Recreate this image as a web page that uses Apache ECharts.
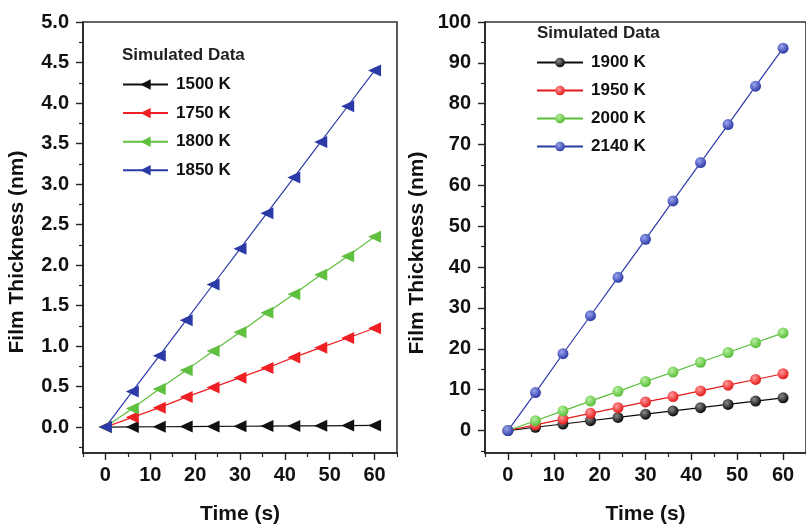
<!DOCTYPE html>
<html>
<head>
<meta charset="utf-8">
<script src="https://cdn.jsdelivr.net/npm/echarts@6/dist/echarts.min.js"></script>
<style>
html,body{margin:0;padding:0;background:#fff;}
#c{width:806px;height:530px;}
</style>
</head>
<body>
<div id="c"></div>
<script>
// ---- data ----
var timeS = [0, 6, 12, 18, 24, 30, 36, 42, 48, 54, 60];

var k1500 = [0, 0.002, 0.004, 0.006, 0.008, 0.010, 0.012, 0.014, 0.016, 0.018, 0.020];
var k1750 = [0, 0.12, 0.24, 0.37, 0.49, 0.61, 0.73, 0.86, 0.98, 1.10, 1.22];
var k1800 = [0, 0.23, 0.47, 0.70, 0.94, 1.17, 1.41, 1.64, 1.88, 2.11, 2.35];
var k1850 = [0, 0.44, 0.88, 1.32, 1.76, 2.20, 2.64, 3.08, 3.52, 3.96, 4.40];

var k1900 = [0, 0.8, 1.6, 2.4, 3.2, 4.0, 4.8, 5.6, 6.4, 7.2, 8.0];
var k1950 = [0, 1.4, 2.8, 4.2, 5.6, 7.0, 8.3, 9.7, 11.1, 12.5, 13.9];
var k2000 = [0, 2.4, 4.8, 7.2, 9.6, 12.0, 14.3, 16.7, 19.1, 21.5, 23.9];
var k2140 = [0, 9.3, 18.8, 28.1, 37.5, 46.8, 56.2, 65.6, 74.9, 84.3, 93.6];

var leftNames = ['1500 K', '1750 K', '1800 K', '1850 K'];
var rightNames = ['1900 K', '1950 K', '2000 K', '2140 K'];

var xMajorTicks = [0, 10, 20, 30, 40, 50, 60];
var xMinorTicks = [-5, 5, 15, 25, 35, 45, 55, 65];
var yLeftMajorTicks = [0, 0.5, 1.0, 1.5, 2.0, 2.5, 3.0, 3.5, 4.0, 4.5, 5.0];
var yLeftMinorTicks = [-0.25, 0.25, 0.75, 1.25, 1.75, 2.25, 2.75, 3.25, 3.75, 4.25, 4.75];
var yRightMajorTicks = [0, 10, 20, 30, 40, 50, 60, 70, 80, 90, 100];
var yRightMinorTicks = [-5, 5, 15, 25, 35, 45, 55, 65, 75, 85, 95];

var xTitle = 'Time (s)';
var yTitle = 'Film Thickness (nm)';
var legendTitle = 'Simulated Data';

// ---- helpers ----
var FONT = '"Liberation Sans", Arial, Helvetica, sans-serif';
var AX = '#222';
function pairs(vals) { return timeS.map(function (t, i) { return [t, vals[i]]; }); }

function mainX(grid) {
  return {
    type: 'value', gridIndex: grid, min: -5, max: 65, position: 'bottom',
    axisLine: { show: true, onZero: false, lineStyle: { color: AX, width: 1.6 } },
    axisTick: { show: true, customValues: xMajorTicks, length: 7, lineStyle: { color: AX, width: 1.4 } },
    axisLabel: { customValues: xMajorTicks, margin: 12, color: '#111', fontSize: 20, fontWeight: 'bold', fontFamily: FONT },
    splitLine: { show: false },
    name: xTitle, nameLocation: 'middle', nameGap: 51,
    nameTextStyle: { color: '#111', fontSize: 21, fontWeight: 'bold', fontFamily: FONT }
  };
}
function minorX(grid) {
  return {
    type: 'value', gridIndex: grid, min: -5, max: 65, position: 'bottom', offset: 0,
    axisLine: { show: false, onZero: false },
    axisTick: { show: true, customValues: xMinorTicks, length: 4, lineStyle: { color: AX, width: 1.2 } },
    axisLabel: { show: false }, splitLine: { show: false }
  };
}
function mainY(grid, mn, mx, ticks, fmt) {
  return {
    type: 'value', gridIndex: grid, min: mn, max: mx, position: 'left',
    axisLine: { show: true, onZero: false, lineStyle: { color: AX, width: 1.6 } },
    axisTick: { show: true, customValues: ticks, length: 7, lineStyle: { color: AX, width: 1.4 } },
    axisLabel: { customValues: ticks, margin: 14, color: '#111', fontSize: 20, fontWeight: 'bold', fontFamily: FONT, formatter: fmt },
    splitLine: { show: false }
  };
}
function minorY(grid, mn, mx, ticks) {
  return {
    type: 'value', gridIndex: grid, min: mn, max: mx, position: 'left', offset: 0,
    axisLine: { show: false, onZero: false },
    axisTick: { show: true, customValues: ticks, length: 4, lineStyle: { color: AX, width: 1.2 } },
    axisLabel: { show: false }, splitLine: { show: false }
  };
}

function triSeries(name, vals, color) {
  return {
    name: name, type: 'line', xAxisIndex: 0, yAxisIndex: 0,
    data: pairs(vals),
    symbol: 'triangle', symbolSize: [12, 13], symbolRotate: 90,
    lineStyle: { color: color, width: 1.2 },
    itemStyle: { color: color },
    emphasis: { disabled: true }, animation: false
  };
}
function ballSeries(name, vals, light, dark) {
  var grad = new echarts.graphic.RadialGradient(0.38, 0.35, 0.65, [
    { offset: 0, color: light }, { offset: 1, color: dark }
  ]);
  return {
    name: name, type: 'line', xAxisIndex: 2, yAxisIndex: 2,
    data: pairs(vals),
    symbol: 'circle', symbolSize: 11,
    lineStyle: { color: dark, width: 1.2 },
    itemStyle: { color: grad, borderWidth: 0 },
    emphasis: { disabled: true }, animation: false
  };
}

var chart = echarts.init(document.getElementById('c'), null, { renderer: 'canvas' });
chart.setOption({
  backgroundColor: '#fff',
  animation: false,
  title: [
    { text: legendTitle, left: 117, top: 42, textStyle: { fontSize: 17, fontWeight: 'bold', color: '#222', fontFamily: FONT } },
    { text: legendTitle, left: 532, top: 20, textStyle: { fontSize: 17, fontWeight: 'bold', color: '#222', fontFamily: FONT } }
  ],
  legend: [
    { data: leftNames, orient: 'vertical', left: 117, top: 71, itemWidth: 45, itemHeight: 13, itemGap: 11.6,
      textStyle: { fontSize: 17, fontWeight: 'bold', color: '#111', fontFamily: FONT, padding: [0, 0, 0, 3] } },
    { data: rightNames, orient: 'vertical', left: 531, top: 49, itemWidth: 46, itemHeight: 12, itemGap: 11,
      textStyle: { fontSize: 17, fontWeight: 'bold', color: '#111', fontFamily: FONT, padding: [0, 0, 0, 3] } }
  ],
  grid: [
    { left: 83, top: 22, width: 314, height: 433, show: true, borderColor: '#333', borderWidth: 1.6, backgroundColor: 'transparent' },
    { left: 485, top: 22, width: 331, height: 434, show: true, borderColor: '#333', borderWidth: 1.6, backgroundColor: 'transparent' }
  ],
  xAxis: [mainX(0), minorX(0), mainX(1), minorX(1)],
  yAxis: [
    mainY(0, -0.32, 5, yLeftMajorTicks, function (v) { return v.toFixed(1); }),
    minorY(0, -0.32, 5, yLeftMinorTicks),
    mainY(1, -5.5, 100, yRightMajorTicks, function (v) { return String(v); }),
    minorY(1, -5.5, 100, yRightMinorTicks)
  ],
  graphic: [
    { type: 'text', x: 17, y: 252, rotation: Math.PI / 2,
      style: { text: yTitle, font: 'bold 21px ' + FONT, fill: '#111', align: 'center', verticalAlign: 'middle', textAlign: 'center', textVerticalAlign: 'middle' } },
    { type: 'text', x: 417, y: 253, rotation: Math.PI / 2,
      style: { text: yTitle, font: 'bold 21px ' + FONT, fill: '#111', align: 'center', verticalAlign: 'middle', textAlign: 'center', textVerticalAlign: 'middle' } }
  ],
  series: [
    triSeries(leftNames[0], k1500, '#111111'),
    triSeries(leftNames[1], k1750, '#ef1f23'),
    triSeries(leftNames[2], k1800, '#5fbf3f'),
    triSeries(leftNames[3], k1850, '#2c3aa8'),
    ballSeries(rightNames[0], k1900, '#8a8a8a', '#0a0a0a'),
    ballSeries(rightNames[1], k1950, '#ff9a9a', '#e41a1a'),
    ballSeries(rightNames[2], k2000, '#b8f0a0', '#58bd38'),
    ballSeries(rightNames[3], k2140, '#9aa4ee', '#2d3aa6')
  ]
});
</script>
</body>
</html>
